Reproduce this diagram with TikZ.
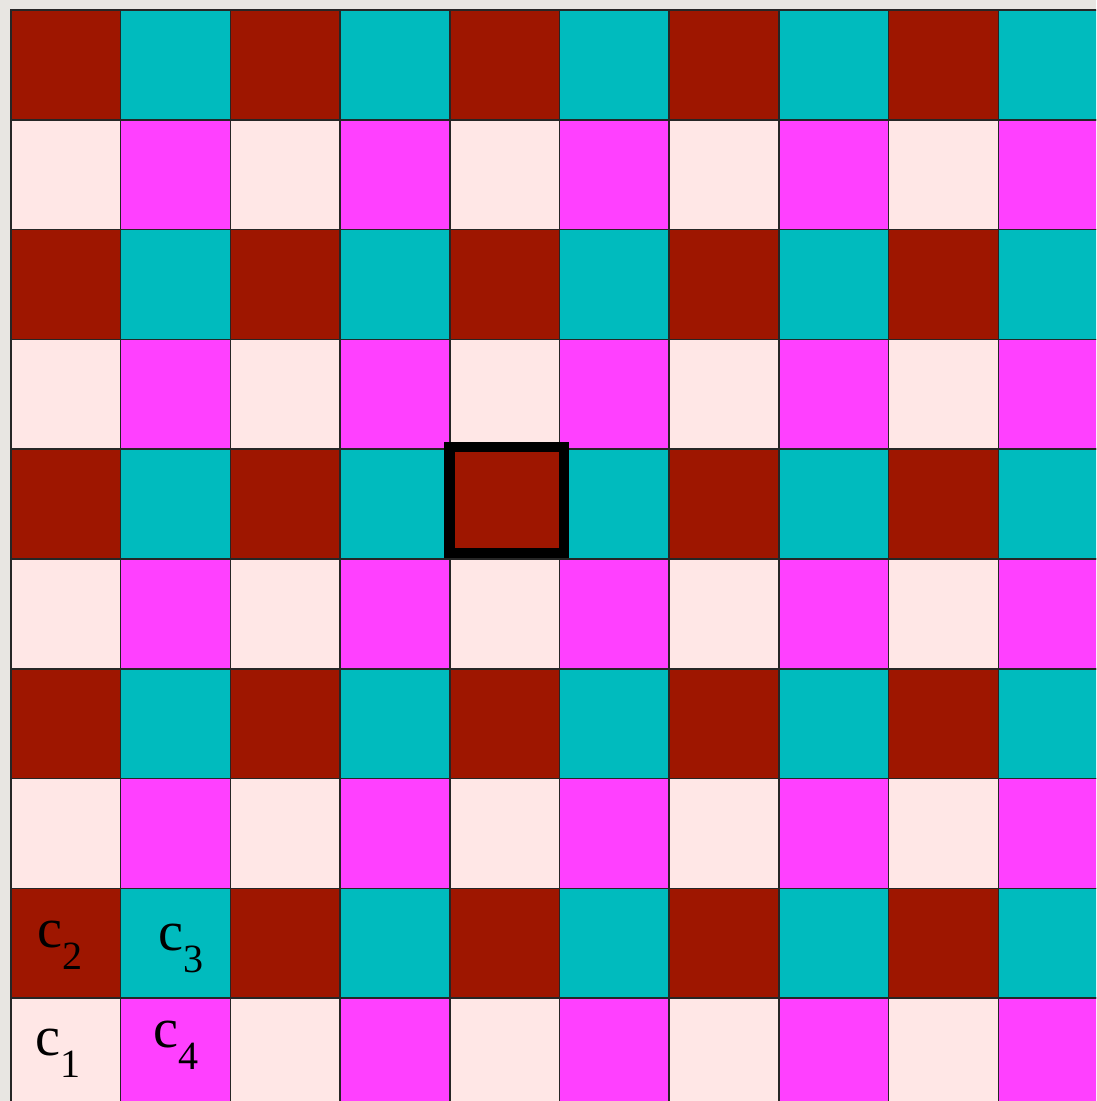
\documentclass[tikz,border=0pt]{standalone}
\usepackage{fontspec}
\setmainfont{Liberation Serif}
\usepackage{xcolor}
\usetikzlibrary{positioning}

\definecolor{paper}{HTML}{E8E6E2}
\definecolor{cellred}{HTML}{9E1600}
\definecolor{cellcyan}{HTML}{00BBBE}
\definecolor{cellpink}{HTML}{FFE7E6}
\definecolor{cellmagenta}{HTML}{FF40FF}

\newcommand{\cname}[1]{c\raisebox{-6.3pt}{\fontsize{11.4}{12}\selectfont #1}}

\begin{document}
\begin{tikzpicture}[
    cell/.style={draw=black!85,line width=0.45pt},
    highlight/.style={draw=black,line width=0.105cm},
    clabel/.style={anchor=base west,inner sep=0pt,font=\fontsize{16}{18}\selectfont}
]
\useasboundingbox[fill=paper] (0,0) rectangle (10.96,-11.01);
\clip (0,0) rectangle (10.96,-11.01);

% checkerboard of four colours
\foreach \j in {0,...,9}{
  \foreach \i in {0,...,9}{
    \ifodd\j
      \ifodd\i \def\cellcol{cellmagenta}\else\def\cellcol{cellpink}\fi
    \else
      \ifodd\i \def\cellcol{cellcyan}\else\def\cellcol{cellred}\fi
    \fi
    \draw[cell,fill=\cellcol] (0.11+1.097*\i,-0.10-1.098*\j) rectangle ++(1.097,-1.098);
  }
}

% marked cell
\draw[highlight] (4.4925,-4.47) rectangle (5.64,-5.53);

\node[clabel] (c2) at (0.37,-9.47) {\cname{2}};
\node[clabel] (c3) at (1.58,-9.50) {\cname{3}};
\node[clabel] (c1) at (0.35,-10.55) {\cname{1}};
\node[clabel] (c4) at (1.53,-10.47) {\cname{4}};
\end{tikzpicture}
\end{document}
